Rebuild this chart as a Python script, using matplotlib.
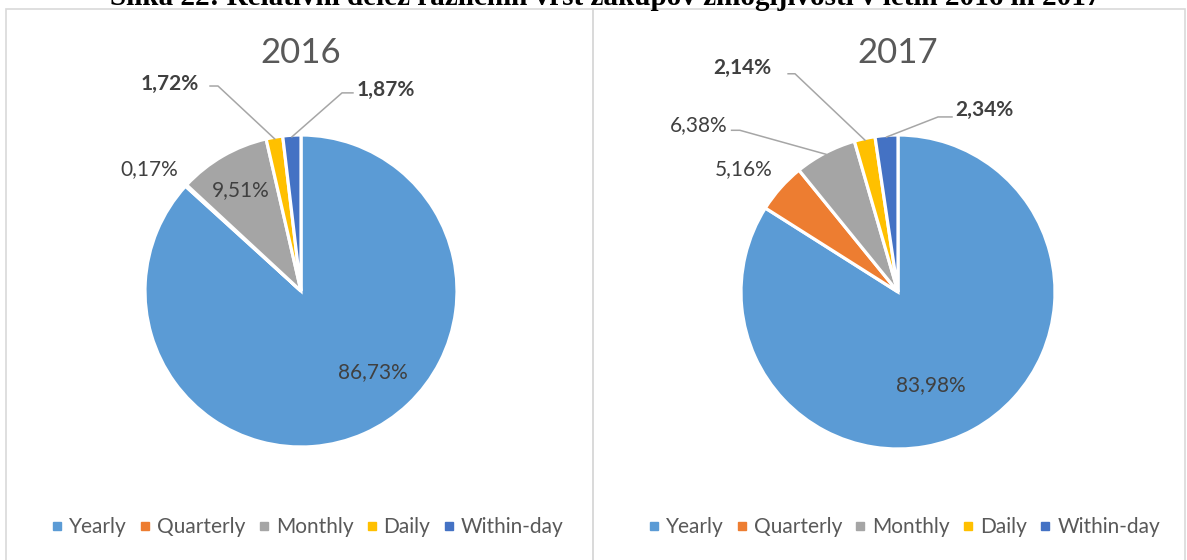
import matplotlib
matplotlib.use("Agg")
import matplotlib.pyplot as plt
from matplotlib.lines import Line2D
from matplotlib.patches import Rectangle
import numpy as np

# data
categories = ["Yearly", "Quarterly", "Monthly", "Daily", "Within-day"]
years = ["2016", "2017"]
share_2016 = [86.73, 0.17, 9.51, 1.72, 1.87]
share_2017 = [83.98, 5.16, 6.38, 2.14, 2.34]
colors = ["#5B9BD5", "#ED7D31", "#A5A5A5", "#FFC000", "#4472C4"]
caption = "Slika 22: Relativni delež različnih vrst zakupov zmogljivosti v letih 2016 in 2017"

W, H = 1187, 560
plt.rcParams['font.family'] = ['Lato', 'DejaVu Sans']
fig = plt.figure(figsize=(W / 100, H / 100), dpi=100)

# label placement per wedge: (text x, text y, bold, leader line points or None)
label_layout = {
    "2016": [
        ((0.46, -0.52), False, None),
        ((-0.97, 0.78), False, None),
        ((-0.385, 0.65), False, None),
        ((-0.84, 1.33), True, [(-0.583, 1.314), (-0.532, 1.314)]),
        ((0.545, 1.29), True, [(0.333, 1.27), (0.263, 1.27)]),
    ],
    "2017": [
        ((0.21, -0.59), False, None),
        ((-0.98, 0.78), False, None),
        ((-1.27, 1.06), False, [(-1.06, 1.03), (-1.007, 1.03)]),
        ((-0.99, 1.43), True, [(-0.70, 1.39), (-0.656, 1.39)]),
        ((0.55, 1.16), True, [(0.344, 1.115), (0.255, 1.115)]),
    ],
}
# pie centres / radius in pixels
pie_geom = {"2016": (301, 291, 156), "2017": (898, 292, 157)}
panels = {"2016": (6, 593), "2017": (593, 1185)}


def fmt(v):
    return ("%.2f%%" % v).replace(".", ",")


for year, shares in zip(years, [share_2016, share_2017]):
    # panel border
    x0, x1 = panels[year]
    fig.add_artist(Rectangle((x0 / W, -0.05), (x1 - x0) / W, 1.05 - 9 / H,
                             transform=fig.transFigure, fill=False,
                             edgecolor="#D9D9D9", lw=1.2))

    cx, cy, R = pie_geom[year]
    h = 1.7
    ax = fig.add_axes([(cx - h * R) / W, (H - cy - h * R) / H, 2 * h * R / W, 2 * h * R / H])
    wedges, _ = ax.pie(shares, colors=colors, startangle=90, counterclock=False,
                       radius=1, wedgeprops=dict(edgecolor="white", linewidth=2.3))
    ax.set_xlim(-h, h)
    ax.set_ylim(-h, h)
    ax.set_aspect("equal")
    ax.set_axis_off()

    for w, v, (pos, bold, line) in zip(wedges, shares, label_layout[year]):
        ax.text(pos[0], pos[1], fmt(v), ha="center", va="center", fontsize=15,
                color="#404040", fontweight="bold" if bold else "normal")
        if line is not None:
            mid = np.deg2rad((w.theta1 + w.theta2) / 2)
            pts = line + [(0.99 * np.cos(mid), 0.99 * np.sin(mid))]
            ax.plot([p[0] for p in pts], [p[1] for p in pts], color="#A6A6A6",
                    lw=1.1, clip_on=False)

    fig.text(cx / W, 1 - 53 / H, year, ha="center", va="center", fontsize=25,
             color="#595959")

    handles = [Line2D([], [], marker="s", ls="none", markersize=5.5,
                      markerfacecolor=c, markeredgecolor=c) for c in colors]
    fig.legend(handles, categories, loc="center", ncol=5,
               bbox_to_anchor=((x0 + x1) / 2 / W + (8 if year == "2016" else 15) / W, 1 - 527 / H),
               frameon=False, fontsize=15, labelcolor="#595959",
               handlelength=0.55, handletextpad=0.3, columnspacing=0.6)

fig.text(605 / W, 1 - 5 / H, caption, ha="center", va="baseline", fontsize=21,
         fontweight="bold", family="Liberation Serif", color="black")

fig.savefig("out.png", dpi=100)
